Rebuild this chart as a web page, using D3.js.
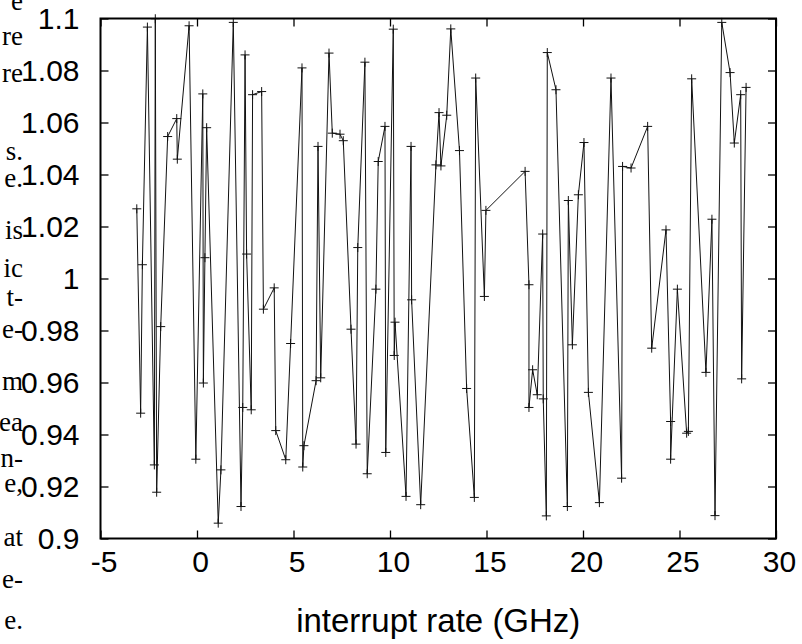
<!DOCTYPE html>
<html lang="en">
<head>
    <meta charset="UTF-8">
    <title>interrupt rate</title>
    <script src="https://cdnjs.cloudflare.com/ajax/libs/d3/7.8.5/d3.min.js"></script>
    <style>
        html, body {
            margin: 0;
            padding: 0;
            background-color: white;
            overflow: hidden;
        }

        #chart text {
            font-family: "Liberation Sans", Arial, Helvetica, sans-serif;
            fill: black;
        }

        #chart text.margin-word {
            font-family: "Liberation Serif", "Times New Roman", serif;
        }
    </style>
</head>
<body>
<section id="chart"></section>
<script type="text/javascript">
    // measured values, in plotting order
    const rateGHz = [
        -3.12, -2.92, -2.83, -2.57, -2.21, -2.16, -2.09, -1.88, -1.52, -1.05,
        -1.02, -0.41, -0.06, 0.30, 0.33, 0.41, 0.50, 1.10, 1.24, 1.88,
        2.28, 2.37, 2.49, 2.57, 2.81, 2.88, 3.35, 3.44, 4.00, 4.08,
        4.60, 4.85, 5.44, 5.48, 5.54, 6.17, 6.27, 6.41, 6.84, 7.01,
        7.41, 7.58, 7.98, 8.24, 8.33, 8.70, 8.82, 9.27, 9.39, 9.74,
        9.78, 10.17, 10.22, 10.26, 10.83, 11.09, 11.12, 11.59, 12.38, 12.54,
        12.64, 12.94, 13.15, 13.60, 13.97, 14.37, 14.44, 14.89, 14.97, 17.00,
        17.20, 17.20, 17.39, 17.63, 17.91, 17.94, 18.10, 18.15, 18.60, 19.19,
        19.24, 19.45, 19.76, 20.05, 20.28, 20.85, 21.45, 22.00, 22.05, 22.49,
        23.35, 23.56, 24.30, 24.54, 24.54, 24.89, 25.37, 25.46, 25.63, 26.37,
        26.68, 26.84, 27.19, 27.62, 27.84, 28.17, 28.22, 28.45
    ];
    const ratio = [
        1.0268, 0.9482, 1.0053, 1.0967, 0.9283, 1.0999, 0.9178, 0.9815, 1.0546, 1.0615,
        1.0459, 1.0972, 0.9305, 1.0710, 0.9598, 1.0080, 1.0580, 0.9059, 0.9264, 1.0985,
        0.9123, 0.9504, 1.0860, 1.0094, 0.9495, 1.0707, 1.0719, 0.9882, 0.9964, 0.9415,
        0.9303, 0.9750, 1.0810, 0.9275, 0.9357, 0.9607, 1.0508, 0.9618, 1.0867, 1.0559,
        1.0555, 1.0530, 0.9805, 0.9363, 1.0119, 1.0832, 0.9249, 0.9959, 1.0450, 1.0585,
        0.9331, 1.0959, 0.9704, 0.9832, 0.9162, 1.0508, 0.9918, 0.9130, 1.0437, 1.0638,
        1.0433, 1.0628, 1.0960, 1.0492, 0.9577, 0.9158, 1.0771, 0.9931, 1.0262, 1.0412,
        0.9976, 0.9504, 0.9649, 0.9553, 1.0171, 0.9537, 0.9087, 1.0869, 1.0726, 0.9123,
        1.0300, 0.9745, 1.0322, 1.0523, 0.9562, 0.9138, 1.0771, 0.9232, 1.0431, 1.0425,
        1.0585, 0.9732, 1.0187, 0.9450, 0.9305, 0.9959, 0.9405, 0.9412, 1.0768, 0.9639,
        1.0228, 0.9088, 1.0985, 1.0792, 1.0521, 1.0707, 0.9614, 1.0735
    ];

    const xTicks = [-5, 0, 5, 10, 15, 20, 25, 30];
    const yTicks = [0.9, 0.92, 0.94, 0.96, 0.98, 1, 1.02, 1.04, 1.06, 1.08, 1.1];
    const yTickLabels = ['0.9', '0.92', '0.94', '0.96', '0.98', '1', '1.02', '1.04', '1.06', '1.08', '1.1'];
    const xLabel = 'interrupt rate (GHz)';

    // line ends of the page text that the figure sits on
    const marginWords = ['e', 're', 're', 's.', 'e.', 'is', 'ic', 't-', 'e-', 'm', 'ea', 'n-', 'e,', 'at', 'e-', 'e.'];
    const marginBaselines = [10, 45, 82, 160, 187, 239, 277, 306, 338, 390, 431, 467, 492, 546, 588, 629];

    function onLoad() {
        const width = 802;
        const height = 644;
        const plot = {left: 100.5, right: 776, top: 18.5, bottom: 538.5};
        const tickLen = 8;

        const svg = d3.select('#chart')
            .append('svg')
            .attr('width', width)
            .attr('height', height);

        svg.append('g')
            .selectAll('text')
            .data(marginWords)
            .enter()
            .append('text')
            .attr('class', 'margin-word')
            .attr('x', 23)
            .attr('y', (_, i) => marginBaselines[i])
            .attr('text-anchor', 'end')
            .style('font-size', '27px')
            .text(d => d);

        const scaleX = d3.scaleLinear().domain([-5, 30]).range([plot.left, plot.right]);
        const scaleY = d3.scaleLinear().domain([0.9, 1.1]).range([plot.bottom, plot.top]);

        const yFmt = d => yTickLabels[yTicks.indexOf(d)];

        // gnuplot style: plain hyphen for negatives
        const xAxis = d3.axisBottom(scaleX).tickValues(xTicks).tickFormat(d => String(d))
            .tickSizeInner(-tickLen).tickSizeOuter(0).tickPadding(12);
        const yAxis = d3.axisLeft(scaleY).tickValues(yTicks).tickFormat(yFmt)
            .tickSizeInner(-tickLen).tickSizeOuter(0).tickPadding(21);
        const xTop = d3.axisTop(scaleX).tickValues(xTicks).tickFormat('')
            .tickSizeInner(-tickLen).tickSizeOuter(0);
        const yRight = d3.axisRight(scaleY).tickValues(yTicks).tickFormat('')
            .tickSizeInner(-tickLen).tickSizeOuter(0);

        const axes = [
            [xAxis, `translate(0, ${plot.bottom})`, 'x-axis'],
            [yAxis, `translate(${plot.left}, 0)`, 'y-axis'],
            [xTop, `translate(0, ${plot.top})`, 'x-top'],
            [yRight, `translate(${plot.right}, 0)`, 'y-right']
        ];
        axes.forEach(([axis, tr, id]) => {
            const g = svg.append('g').attr('id', id).attr('transform', tr).call(axis);
            g.select('.domain').remove();
            g.selectAll('line').attr('stroke', 'black').attr('stroke-width', 1.3);
            g.selectAll('text').attr('fill', 'black').style('font-size', '30px')
                .style('font-family', '"Liberation Sans", Arial, sans-serif');
        });
        svg.select('#x-axis').selectAll('text').attr('dx', 3);

        const line = d3.line()
            .x(d => scaleX(d[0]))
            .y(d => scaleY(d[1]));
        const points = rateGHz.map((x, i) => [x, ratio[i]]);

        svg.append('path')
            .datum(points)
            .attr('fill', 'none')
            .attr('stroke', '#111')
            .attr('stroke-width', 1)
            .attr('d', line);

        const cross = 4.5;
        svg.append('g')
            .selectAll('path')
            .data(points)
            .enter()
            .append('path')
            .attr('transform', d => `translate(${scaleX(d[0])}, ${scaleY(d[1])})`)
            .attr('d', `M${-cross},0H${cross}M0,${-cross}V${cross}`)
            .attr('stroke', '#111')
            .attr('stroke-width', 1);

        svg.append('rect')
            .attr('x', plot.left)
            .attr('y', plot.top)
            .attr('width', plot.right - plot.left)
            .attr('height', plot.bottom - plot.top)
            .attr('fill', 'none')
            .attr('stroke', 'black')
            .attr('stroke-width', 2);

        svg.append('text')
            .attr('x', (plot.left + plot.right) / 2)
            .attr('y', 632)
            .attr('text-anchor', 'middle')
            .style('font-size', '33px')
            .text(xLabel);
    }

    document.addEventListener('DOMContentLoaded', onLoad);
</script>
</body>
</html>
